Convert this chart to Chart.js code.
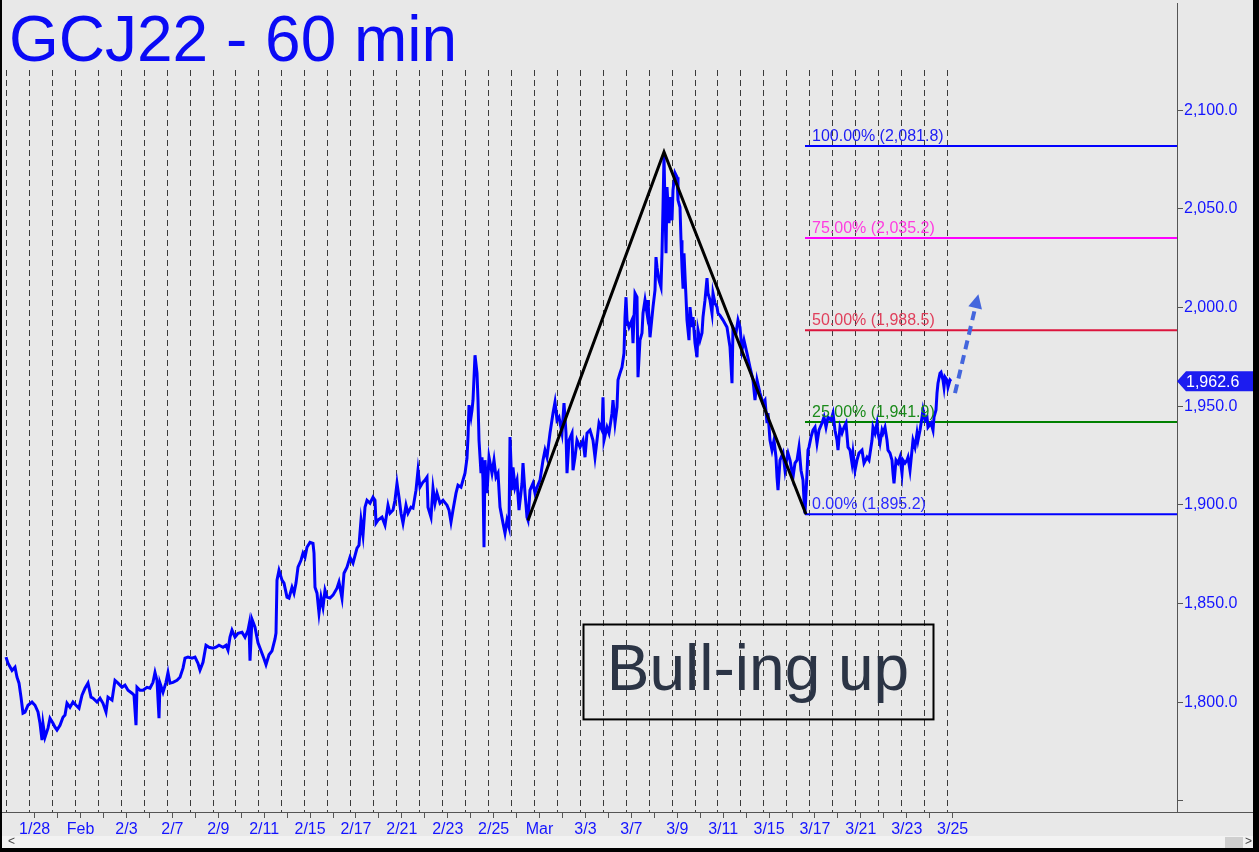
<!DOCTYPE html>
<html><head><meta charset="utf-8">
<script src="https://cdn.jsdelivr.net/npm/chart.js@4.4.0/dist/chart.umd.min.js"></script>
<style>html,body{margin:0;padding:0;background:#e8e8e8;overflow:hidden}canvas{display:block}</style>
</head><body><canvas id="c" width="1259" height="852"></canvas>
<script>
// ---- data (hour index within the visible range, price) ----
const hours = [0,2,6,9,11,13,15,17,19,22,26,29,32,34,36,37,39,42,44,47,49,51,54,57,59,61,64,67,70,73,76,79,82,85,87,91,94,97,100,102,106,109,112,116,119,122,126,128,130,131,134,137,141,144,147,149,151,153,154,157,160,162,164,167,171,174,177,179,182,186,189,192,194,197,200,203,207,210,213,217,220,222,224,226,229,232,236,239,242,243,244,246,249,252,255,258,260,263,266,269,270,
271,273,276,278,281,283,286,288,290,292,295,297,299,301,304,307,308,309,311,313,315,317,319,321,324,327,331,333,336,338,341,344,347,351,353,355,357,359,361,364,367,369,370,372,376,379,382,384,387,389,391,393,395,397,400,402,405,407,410,412,414,417,419,421,422,425,427,429,431,434,437,441,443,445,447,450,452,455,457,459,461,462,463,465,466,467,469,471,472,473,475,476,477,478,
479,481,483,486,488,490,492,494,497,499,501,503,504,506,507,509,511,513,516,517,519,521,522,524,527,529,531,534,537,539,541,544,547,549,551,553,556,558,560,561,563,566,567,569,571,574,577,579,581,584,587,589,591,593,596,597,598,601,603,606,607,609,611,612,614,616,617,618,619,620,621,623,626,627,629,631,632,634,636,637,639,641,642,644,646,647,649,650,651,653,655,656,657,658,659,660,661,663,664,666,667,669,671,672,674,675,676,677,678,680,681,683,684,686,687,689,691,692,694,696,697,699,701,702,704,706,707,709,711,712,
714,717,721,724,726,727,730,732,734,736,738,741,744,747,749,751,754,757,759,761,762,764,766,768,770,771,772,774,777,779,781,782,784,787,789,791,793,795,797,798,799,801,802,803,805,807,809,811,813,816,818,820,822,825,827,829,831,832,834,836,838,840,842,844,846,847,849,851,853,856,858,861,863,866,867,869,871,872,874,876,877,879,881,882,884,886,887,888,890,892,894,896,897,899,901,902,904,906,907,909,911,912,914,916,917,919,921,922,925,927,928,930,931,932,934,935,937,938,939,941,942,944,945];
const prices = [1822.8,1819.7,1816.0,1817.7,1812.6,1809.6,1802.5,1794.4,1794.9,1798.4,1800.0,1798.4,1795.0,1789.3,1780.7,1789.0,1782.2,1786.8,1791.8,1789.3,1787.3,1785.8,1788.2,1792.3,1793.4,1799.4,1797.4,1800.0,1798.4,1796.9,1803.5,1807.0,1809.6,1802.5,1802.0,1800.0,1802.0,1799.4,1795.0,1802.5,1801.0,1811.0,1809.6,1807.5,1808.6,1806.0,1804.5,1803.5,1788.3,1807.5,1806.0,1806.0,1807.5,1807.0,1810.0,1815.0,1811.0,1791.8,1809.6,1805.0,1810.0,1815.0,1809.6,1810.0,1811.0,1812.6,1817.2,1822.3,1822.8,1822.3,1822.8,1819.7,1816.2,1820.2,1828.8,1827.8,1827.3,1827.8,1828.8,1827.8,1828.8,1826.3,1832.9,1836.4,1832.9,1834.9,1835.4,1832.9,1836.4,1839.0,1821.0,1842.0,1838.0,1830.0,1826.0,1822.0,1819.0,1824.0,1826.0,1832.0,1835.0,
1861.8,1866.8,1861.8,1860.3,1853.2,1852.7,1858.2,1855.2,1860.3,1868.4,1871.9,1875.5,1873.4,1878.5,1881.0,1880.5,1875.5,1858.2,1855.2,1845.1,1853.2,1848.1,1856.7,1853.2,1852.7,1854.2,1857.7,1860.8,1852.7,1865.3,1868.4,1873.4,1870.4,1878.0,1879.5,1892.2,1884.6,1898.8,1902.3,1900.8,1903.8,1902.3,1890.7,1892.2,1893.7,1889.7,1899.8,1895.7,1897.3,1902.3,1910.9,1903.8,1895.7,1890.7,1899.8,1895.7,1898.8,1898.3,1907.4,1917.5,1908.9,1911.5,1912.5,1914.0,1898.8,1893.7,1908.4,1900.8,1905.9,1900.8,1902.3,1899.8,1897.3,1891.2,1897.3,1905.9,1909.9,1908.9,1912.5,1916.0,1923.6,1934.3,1950.5,1944.4,1948.0,1953.0,1975.8,1966.7,1953.0,1932.7,1916.0,1924.1,1912.5,1878.5,
1922.6,1905.9,1924.1,1916.0,1922.6,1914.0,1916.0,1898.8,1890.7,1885.6,1892.2,1888.6,1934.3,1907.4,1919.0,1908.9,1912.5,1897.3,1910.9,1921.1,1905.9,1893.7,1892.2,1907.4,1910.9,1905.9,1908.9,1912.5,1922.6,1927.7,1924.1,1936.3,1946.4,1952.0,1942.9,1944.4,1936.3,1951.5,1936.3,1916.0,1932.7,1936.3,1917.5,1924.1,1932.7,1929.2,1932.7,1924.1,1936.3,1937.8,1932.7,1924.1,1932.7,1941.4,1937.8,1954.5,1932.7,1939.3,1936.3,1946.4,1953.0,1941.4,1949.5,1963.2,1966.7,1969.7,1973.3,1976.8,1995.1,2005.2,1993.6,1990.0,1993.6,1981.9,2007.2,2005.2,1964.7,1983.4,1987.0,1997.1,2003.7,1997.1,2003.7,1984.9,1995.1,2000.2,2008.8,2025.5,2020.4,2013.8,2010.3,2027.5,2050.8,2077.2,2050.8,2027.5,2061.0,2042.7,2055.9,2044.2,2059.5,2068.1,2066.0,2054.4,2050.8,2034.1,2020.4,2010.3,2027.5,2005.2,1993.6,1983.4,2000.2,1990.0,1995.1,1981.9,1974.8,1988.5,1983.4,1987.0,1995.1,2003.7,2014.9,2007.2,2003.7,1997.1,2007.2,2002.2,2000.2,1997.1,
1996.0,1993.6,1990.0,1979.9,1961.6,1990.0,1987.0,1993.6,1990.0,1978.4,1983.4,1976.8,1969.7,1963.2,1953.0,1963.2,1956.6,1951.5,1953.0,1941.4,1946.4,1932.7,1927.7,1932.7,1924.1,1914.0,1907.4,1922.6,1926.2,1917.5,1924.1,1926.2,1922.6,1914.0,1921.1,1922.6,1929.2,1917.5,1912.5,1902.3,1895.7,1916.0,1927.7,1929.2,1934.3,1937.8,1939.3,1931.2,1937.8,1941.4,1944.4,1939.3,1944.4,1942.9,1946.4,1937.8,1932.7,1927.7,1939.3,1936.3,1939.3,1941.4,1929.2,1927.7,1921.1,1926.2,1917.5,1922.6,1926.2,1927.7,1921.1,1924.1,1922.6,1932.7,1939.3,1936.3,1941.4,1936.3,1931.2,1937.8,1936.3,1939.3,1932.7,1927.7,1926.2,1922.6,1916.0,1910.9,1922.6,1921.1,1924.1,1916.0,1922.6,1921.1,1922.6,1924.1,1917.5,1927.7,1932.7,1929.2,1936.3,1932.7,1937.8,1944.4,1948.0,1942.9,1944.4,1939.3,1941.4,1937.8,1944.4,1948.0,1956.6,1961.6,1966.7,1967.2,1963.2,1959.6,1964.7,1963.2,1959.6,1963.2,1962.6];

const sessionDays = [1,2,3,4,5,6,7,8,9,10,11,12,13,14,15,16,17,18,19,20,21,22,23,24,25,26,27,28,29,30,31,32,33,34,35,36,37,38,39,40,41];
const tickLabels = ['1/28','','Feb','','2/3','','2/7','','2/9','','2/11','','2/15','','2/17','','2/21','','2/23','','2/25','','Mar','','3/3','','3/7','','3/9','','3/11','','3/15','','3/17','','3/21','','3/23','','3/25'];
const yTickValues = [1750,1800,1850,1900,1950,2000,2050,2100];

const fibLabels = ['100.00%','75.00%','50.00%','25.00%','0.00%'];
const fibValues = [2081.8,2035.2,1988.5,1941.9,1895.2];
const fibStartHour = 799;

const swingHours = [522,658,800];
const swingPrices = [1892.0,2078.8,1895.2];

const arrowHours = [949,971];
const arrowPrices = [1956.6,2003.7];

const boxHours = [577,927];
const boxPrices = [1791.4,1839.5];
const boxText = 'Bull-ing up';
const titleText = 'GCJ22 - 60 min';
const lastPrice = prices[prices.length-1];

// ---- styles ----
const BARS_PER_SESSION = 22.95;
const TICK_OFFSET = 5.7;
const fibLineColors = ['#0000ff','#ff00ff','#dc143c','#008000','#0000ff'];
const fibTextColors = ['#1c1cf5','#ff3ce0','#e0405c','#1a8a1a','#2a2aff'];
const FONT = "'Liberation Sans', Arial, sans-serif";

const series = hours.map((h,i)=>({x:h,y:prices[i]}));
const datasets = [];
datasets.push({data: arrowHours.map((h,i)=>({x:h,y:arrowPrices[i]})), borderColor:'#4466dd', borderWidth:4, borderDash:[9,6], pointRadius:0, order:0, clip:false});
datasets.push({data: swingHours.map((h,i)=>({x:h,y:swingPrices[i]})), borderColor:'#000000', borderWidth:3, pointRadius:0, order:1});
datasets.push({data: series, borderColor:'#0000ff', borderWidth:3, pointRadius:0, order:2, tension:0, borderJoinStyle:'miter'});
fibValues.forEach((v,i)=>{
  datasets.push({data:[{x:fibStartHour,y:v},{x:1171,y:v}], borderColor:fibLineColors[i], borderWidth:2, pointRadius:0, order:3});
});

const deco = {
  id:'deco',
  beforeDraw(chart){
    const c=chart.ctx; c.save(); c.fillStyle='#e8e8e8'; c.fillRect(0,0,chart.width,chart.height); c.restore();
  },
  beforeDatasetsDraw(chart){
    const c=chart.ctx, x=chart.scales.x, a=chart.chartArea;
    c.save(); c.strokeStyle='#3a3a3a'; c.lineWidth=1; c.setLineDash([6,4]);
    for(let k=0;k<=41;k++){
      const px=Math.round(x.getPixelForValue(k*BARS_PER_SESSION))+0.5;
      c.beginPath(); c.moveTo(px,70); c.lineTo(px,a.bottom); c.stroke();
    }
    c.restore();
  },
  afterDatasetsDraw(chart){
    const c=chart.ctx, x=chart.scales.x, y=chart.scales.y, a=chart.chartArea;
    c.save();
    c.font='16px '+FONT; c.textBaseline='alphabetic'; c.textAlign='left';
    fibValues.forEach((v,i)=>{
      c.fillStyle=fibTextColors[i];
      const t=fibLabels[i]+' ('+v.toLocaleString('en-US',{minimumFractionDigits:1,maximumFractionDigits:1})+')';
      c.fillText(t, x.getPixelForValue(fibStartHour)+7, y.getPixelForValue(v)-5);
    });
    const x0=x.getPixelForValue(arrowHours[0]), y0=y.getPixelForValue(arrowPrices[0]);
    const x1=x.getPixelForValue(arrowHours[1]), y1=y.getPixelForValue(arrowPrices[1]);
    const ang=Math.atan2(y1-y0,x1-x0);
    c.fillStyle='#4466dd'; c.beginPath();
    c.moveTo(x1+Math.cos(ang)*6, y1+Math.sin(ang)*6);
    c.lineTo(x1-Math.cos(ang)*8-Math.sin(ang)*7, y1-Math.sin(ang)*8+Math.cos(ang)*7);
    c.lineTo(x1-Math.cos(ang)*8+Math.sin(ang)*7, y1-Math.sin(ang)*8-Math.cos(ang)*7);
    c.closePath(); c.fill();
    const bx0=x.getPixelForValue(boxHours[0]), bx1=x.getPixelForValue(boxHours[1]);
    const by0=y.getPixelForValue(boxPrices[1]), by1=y.getPixelForValue(boxPrices[0]);
    c.strokeStyle='#000'; c.lineWidth=2; c.strokeRect(Math.round(bx0)+0.5,Math.round(by0)+0.5,bx1-bx0,by1-by0);
    c.fillStyle='#2b3445'; c.font='64px '+FONT; c.textAlign='center';
    c.fillText(boxText,(bx0+bx1)/2, by0+66);
    c.fillStyle='#0a0af5'; c.font='64px '+FONT; c.textAlign='left';
    c.fillText(titleText, 9, 61);
    c.restore();
  },
  afterDraw(chart){
    const c=chart.ctx, y=chart.scales.y, a=chart.chartArea, W=chart.width, H=chart.height;
    c.save();
    c.strokeStyle='#555'; c.lineWidth=1;
    c.beginPath(); c.moveTo(0,Math.round(a.bottom)+0.5); c.lineTo(W,Math.round(a.bottom)+0.5); c.stroke();
    const py=y.getPixelForValue(lastPrice);
    c.fillStyle='#1c1cf0'; c.beginPath();
    c.moveTo(a.right,py); c.lineTo(a.right+9,py-10); c.lineTo(W,py-10); c.lineTo(W,py+10); c.lineTo(a.right+9,py+10); c.closePath(); c.fill();
    c.fillStyle='#ffffff'; c.font='16px '+FONT; c.textBaseline='middle'; c.textAlign='left';
    c.fillText(lastPrice.toLocaleString('en-US',{minimumFractionDigits:1,maximumFractionDigits:1}), a.right+9, py+1);
    c.fillStyle='#f2f2f2'; c.fillRect(0,836,W,12);
    c.fillStyle='#cfcfcf'; c.fillRect(1225,837,18,11);
    c.fillStyle='#444'; c.font='12px '+FONT; c.textBaseline='middle';
    c.fillText('<',8,842); c.fillText('>',1245,842);
    c.fillStyle='#000';
    c.fillRect(W-6,0,6,H); c.fillRect(0,H-4,W,4); c.fillRect(0,0,2,H);
    c.restore();
  }
};

new Chart(document.getElementById('c'), {
  type:'line',
  data:{datasets},
  options:{
    responsive:false, animation:false, devicePixelRatio:1,
    layout:{padding:{left:3,top:3,right:0,bottom:0}},
    plugins:{legend:{display:false}, tooltip:{enabled:false}},
    elements:{line:{tension:0}},
    scales:{
      x:{type:'linear', min:-3, max:1171, position:'bottom',
        afterFit(s){ s.height=40; s.paddingLeft=0; s.paddingRight=0; },
        afterBuildTicks(s){ s.ticks = sessionDays.map(d=>({value:d*BARS_PER_SESSION+TICK_OFFSET})); },
        ticks:{autoSkip:false, maxRotation:0, minRotation:0, padding:2, color:'#1414ff', font:{family:FONT,size:16},
          callback:(v,i)=>tickLabels[i]},
        grid:{drawOnChartArea:false, drawTicks:true, tickLength:6, color:'#555'},
        border:{color:'#555'}
      },
      y:{type:'linear', position:'right', min:1744.3, max:2154.3,
        afterFit(s){ s.width=82; s.paddingTop=0; s.paddingBottom=0; },
        afterBuildTicks(s){ s.ticks = yTickValues.map(v=>({value:v})); },
        ticks:{padding:1, color:'#1414ff', font:{family:FONT,size:16},
          callback:(v)=> v===1750 ? '' : v.toLocaleString('en-US',{minimumFractionDigits:1,maximumFractionDigits:1})},
        grid:{drawOnChartArea:false, drawTicks:true, tickLength:6, color:'#555'},
        border:{color:'#555'}
      }
    }
  },
  plugins:[deco]
});
</script>
</body></html>
